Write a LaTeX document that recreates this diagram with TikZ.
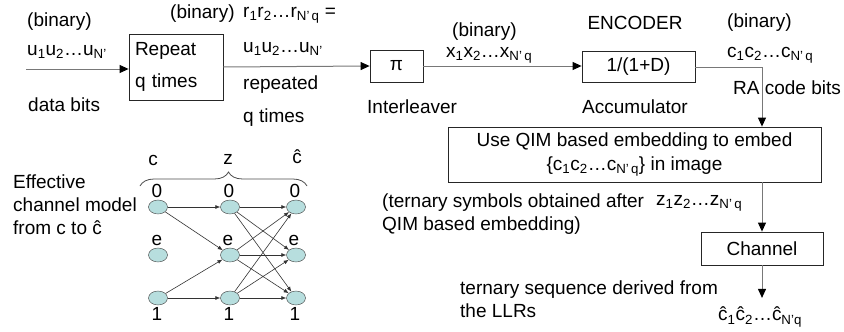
\documentclass[tikz,border=0pt]{standalone}
\usepackage{fontspec}
\setmainfont{Liberation Sans}
\usetikzlibrary{arrows.meta,positioning,shapes.geometric}
\usetikzlibrary{decorations.pathreplacing}
\definecolor{lineg}{RGB}{120,120,120}
\definecolor{cellf}{RGB}{183,222,222}
\newcommand{\seqof}[2]{#1\textsubscript{1}#1\textsubscript{2}…#1\textsubscript{#2}}

\begin{document}
\begin{tikzpicture}[x=1pt, y=-1pt, font=\fontsize{19}{22.8}\selectfont,
	blk/.style={draw=black!85, line width=0.8pt, inner sep=0pt},
	lbl/.style={inner sep=0pt, anchor=west},
	flow/.style={draw=lineg, line width=1pt, -{Triangle[length=9pt,width=8pt,color=black]}},
	dot/.style={draw=black!75, ellipse, fill=cellf, minimum width=19pt, minimum height=14pt, inner sep=0pt},
	tr/.style={draw=black!80, line width=0.6pt, -{Latex[length=5pt,width=4pt]}}]
\useasboundingbox (0,0) rectangle (844,332);
% encoder row
\node[lbl] (bin1) at (27,22) {(binary)};
\node[lbl] (useq) at (27,52) {\seqof{u}{N’}};
\node[lbl] (dbits) at (28,105) {data bits};
\coordinate (src) at (26,69);
\node[blk, minimum width=94pt, minimum height=66pt, text width=82pt, align=left] (rep) at (176,67) {Repeat\\[10pt]q times};
\draw[flow] (src) -- (src -| rep.west);
\node[lbl] (bin2) at (170,14) {(binary)};
\node[lbl] (rseq) at (243,15) {r\textsubscript{1}r\textsubscript{2}…r\textsubscript{N’\,q} =};
\node[lbl] (useq2) at (243,49) {\seqof{u}{N’}};
\node[lbl] (rept) at (243,85) {repeated};
\node[lbl] (qt) at (243,118) {q times};
\node[blk, minimum width=53pt, minimum height=32pt] (pi) at (396.5,66) {π};
\draw[flow] (rep.east) -- (pi.west);
\node[lbl] (intl) at (367,107) {Interleaver};
\node[lbl] (bin3) at (452,32) {(binary)};
\node[lbl] (xseq) at (446,55) {\seqof{x}{N’\,q}};
\node[blk, minimum width=113pt, minimum height=31pt] (acc) at (638.5,67) {1/(1+D)};
\draw[flow] (pi.east) -- (pi.east -| acc.west);
\node (enc) at (635,23) {ENCODER};
\node (accl) at (635,107) {Accumulator};
\node[lbl] (bin4) at (727,23) {(binary)};
\node[lbl] (cseq) at (727,55) {\seqof{c}{N’\,q}};
\node[lbl] (rabits) at (733,88) {RA code bits};
% embedding and channel
\node[blk, minimum width=373pt, minimum height=55pt, align=center] (qim) at (634.5,154.5)
	{Use QIM based embedding to embed\\[1pt]\{\seqof{c}{N’\,q}\} in image};
\node[blk, minimum width=122pt, minimum height=33pt] (cnl) at (762,248.5) {Channel};
\draw[flow] (acc.east) -| (qim.north -| cnl);
\draw[flow] (qim.south -| cnl) -- (cnl.north);
\node[lbl] (zseq) at (656,203) {\seqof{z}{N’\,q}};
\node[lbl, align=left] (tern) at (382,214) {(ternary symbols obtained after\\QIM based embedding)};
\node[lbl, align=left] (llr) at (460,299) {ternary sequence derived from\\the LLRs};
\node[lbl, inner ysep=9pt] (chseq) at (718,317) {ĉ\textsubscript{1}ĉ\textsubscript{2}…ĉ\textsubscript{N’q}};
\draw[flow] (cnl.south) -- (cnl.south |- chseq.north);
% effective channel model
\node[lbl, align=left] (eff) at (13,204.5) {Effective\\channel model\\from c to ĉ};
\node (chd) at (153,160) {c};
\node (zhd) at (228,159) {z};
\node (hhd) at (297,157) {ĉ};
\draw[draw=black!70, line width=0.8pt, decorate, decoration={brace, amplitude=14pt, aspect=0.53}] (140,186) -- (307,186);
\node[dot] (c0) at (158,207) {};
\node[dot] (ce) at (158,255) {};
\node[dot] (c1) at (158,298) {};
\node[dot] (z0) at (230,207) {};
\node[dot] (ze) at (230,255) {};
\node[dot] (z1) at (230,298) {};
\node[dot] (h0) at (296,207) {};
\node[dot] (he) at (296,255) {};
\node[dot] (h1) at (296,298) {};
\node (c0l) at (157,191) {0};
\node (z0l) at (229,191) {0};
\node (h0l) at (295,191) {0};
\node (cel) at (157,240) {e};
\node (zel) at (228,240) {e};
\node (hel) at (294,240) {e};
\node (c1l) at (157,314) {1};
\node (z1l) at (229,314) {1};
\node (h1l) at (295,314) {1};
\draw[tr] (c0) -- (z0);
\draw[tr] (c0) -- (ze);
\draw[tr] (c1) -- (ze);
\draw[tr] (c1) -- (z1);
\draw[tr] (z0) -- (h0);
\draw[tr] (z0) -- (he);
\draw[tr] (z0) -- (h1);
\draw[tr] (ze) -- (h0);
\draw[tr] (ze) -- (he);
\draw[tr] (ze) -- (h1);
\draw[tr] (z1) -- (h0);
\draw[tr] (z1) -- (he);
\draw[tr] (z1) -- (h1);
\end{tikzpicture}
\end{document}
